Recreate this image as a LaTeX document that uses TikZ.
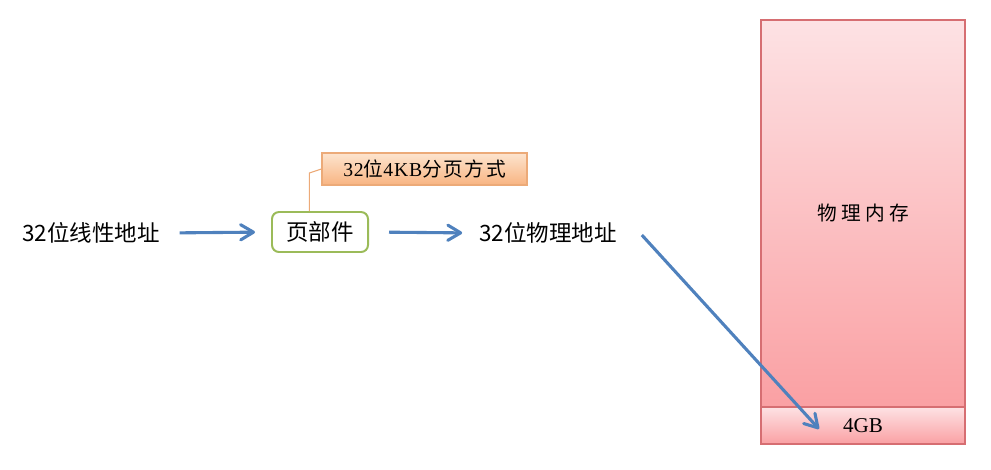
\documentclass[tikz,border=0pt]{standalone}
\usepackage{fontspec}
\usepackage{xcolor}
\usetikzlibrary{arrows.meta}
\newfontfamily\cjk{Noto Sans CJK SC}
\newfontfamily\cjknote[LetterSpace=8]{Noto Sans CJK SC}
\newfontfamily\cjkwide[LetterSpace=22]{Noto Sans CJK SC}
\newfontfamily\serifnote[LetterSpace=4]{Liberation Serif}
\newfontfamily\serifgb{Liberation Serif}
\definecolor{flowblue}{RGB}{79,129,189}
\definecolor{pagegreen}{RGB}{155,187,89}
\definecolor{noteline}{RGB}{236,170,120}
\definecolor{notetop}{RGB}{253,228,206}
\definecolor{notebot}{RGB}{248,180,130}
\definecolor{memline}{RGB}{214,110,114}
\definecolor{memtop}{RGB}{253,226,228}
\definecolor{membot}{RGB}{250,160,163}

\begin{document}
\begin{tikzpicture}[x=0.025cm,y=-0.025cm,
	flow/.style={draw=flowblue, line width=2.2pt, line join=round, -{Straight Barb[length=3.2mm,width=3.8mm,round]}},
	label/.style={font=\cjk\fontsize{16}{19}\selectfont, inner sep=2pt},
	membox/.style={draw=memline, line width=1pt, top color=memtop, bottom color=membot, minimum width=5.1cm}]
	\useasboundingbox (0,0) rectangle (991,469);
	% addresses and page unit
	\node (lin) [label] at (91,233) {32位线性地址};
	\node (page) [draw=pagegreen, line width=1.4pt, rounded corners=5pt, fill=white,
		minimum width=2.4cm, minimum height=1cm, font=\cjk\fontsize{16}{19}\selectfont] at (320,232) {页部件};
	\node (phys) [label] at (548,233) {32位物理地址};
	\node (note) [draw=noteline, line width=0.8pt, top color=notetop, bottom color=notebot,
		minimum width=5.125cm, minimum height=0.8cm, font=\fontsize{14}{17}\selectfont] at (424.5,169)
		{{\serifnote 32}{\cjknote 位}{\serifnote 4KB}{\cjknote 分页方式}};
	% physical memory
	\node (mem) [membox, minimum height=9.675cm, font=\cjkwide\fontsize{14}{17}\selectfont] at (863,213.5) {物理内存};
	\node (gb) [membox, minimum height=0.925cm, font=\serifgb\fontsize{15}{18}\selectfont] at (863,425.5) {4GB};
	\coordinate (hit) at (819,429);
	\draw[noteline, line width=0.8pt] (note.west) -- ++(-12,4) coordinate (bend) -- (bend |- page.north);
	\draw[flow, shorten <=0.42cm, shorten >=0.4cm] (lin.east) -> (page.west);
	\draw[flow, shorten <=0.5cm, shorten >=0.35cm] (page.east) -> (phys.west);
	\draw[flow] ([shift={(22,2)}]phys.east) -> (hit);
\end{tikzpicture}
\end{document}
